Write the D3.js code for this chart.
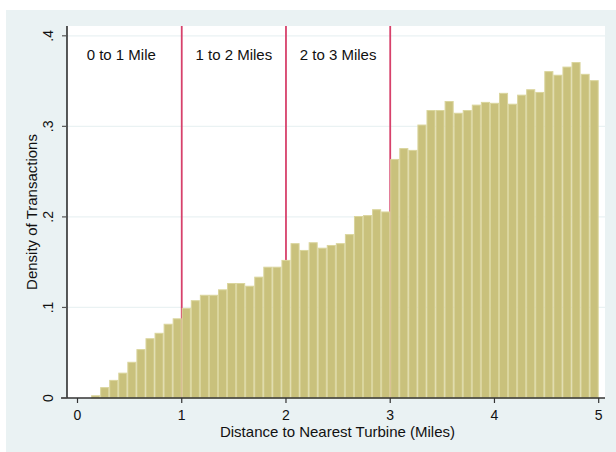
<!DOCTYPE html>
<html lang="en">
<head>
<meta charset="UTF-8">
<title>Density of Transactions by Distance to Nearest Turbine</title>
<script src="https://d3js.org/d3.v7.min.js"></script>
<style>
  body { margin: 0; background: #fff; }
  svg text { font-family: "Liberation Sans", Arial, sans-serif; fill: #111; }
</style>
</head>
<body>
<div id="chart"></div>
<script>
// histogram bins: 56 bins of width 2/23 mile, first edge at 0.1304
var binStart = 1 - 10 * 2 / 23;
var binWidth = 2 / 23;
var density = [
  0.003, 0.012, 0.020, 0.028, 0.040, 0.054, 0.066, 0.072, 0.082, 0.088,
  0.0995, 0.108, 0.114, 0.114, 0.120, 0.127, 0.127, 0.124, 0.134, 0.145,
  0.145, 0.1525, 0.171, 0.1635, 0.172, 0.166, 0.169, 0.171, 0.181, 0.201,
  0.202, 0.2085, 0.206, 0.264, 0.276, 0.274, 0.302, 0.318, 0.318, 0.328,
  0.315, 0.318, 0.324, 0.327, 0.326, 0.337, 0.325, 0.335, 0.341, 0.338,
  0.361, 0.357, 0.366, 0.371, 0.358, 0.351
];
var xTicks = [0, 1, 2, 3, 4, 5];
var yTicks = [0, 0.1, 0.2, 0.3, 0.4];
var yTickLabels = ["0", ".1", ".2", ".3", ".4"];
var cutoffs = [1, 2, 3];
var bandLabels = ["0 to 1 Mile", "1 to 2 Miles", "2 to 3 Miles"];
var bandLabelX = [0.42, 1.5, 2.5];

var W = 616, H = 452;
var plot = {left: 67, right: 605, top: 26, bottom: 398};

var x = d3.scaleLinear().domain([0, 5]).range([77.5, 598.7]);
var y = d3.scaleLinear().domain([0, 0.4]).range([398, 35.8]);

var svg = d3.select("#chart").append("svg")
    .attr("width", W)
    .attr("height", H);

// outer graph region
svg.append("rect")
    .attr("x", 6).attr("y", 10)
    .attr("width", W - 6).attr("height", H - 10)
    .attr("fill", "#eaf2f3");

// plot region
svg.append("rect")
    .attr("x", plot.left).attr("y", plot.top)
    .attr("width", plot.right - plot.left).attr("height", plot.bottom - plot.top)
    .attr("fill", "#fff");

// gridlines
svg.append("g").selectAll("line")
    .data(yTicks.slice(1))
    .enter().append("line")
    .attr("x1", plot.left).attr("x2", plot.right)
    .attr("y1", function(d){ return y(d); })
    .attr("y2", function(d){ return y(d); })
    .attr("stroke", "#eaf2f3")
    .attr("stroke-width", 1.2);

// cutoff lines
svg.append("g").selectAll("line")
    .data(cutoffs)
    .enter().append("line")
    .attr("x1", function(d){ return x(d); })
    .attr("x2", function(d){ return x(d); })
    .attr("y1", plot.top).attr("y2", plot.bottom)
    .attr("stroke", "#d7416b")
    .attr("stroke-width", 1.8);

// bars
svg.append("g").selectAll("rect")
    .data(density)
    .enter().append("rect")
    .attr("x", function(d, i){ return x(binStart + i * binWidth) + 0.5; })
    .attr("width", function(d, i){ return x(binStart + (i + 1) * binWidth) - x(binStart + i * binWidth) - 1; })
    .attr("y", function(d){ return y(d) + 0.5; })
    .attr("height", function(d){ return Math.max(0, y(0) - y(d) - 0.5); })
    .attr("fill", "#c9c17c")
    .attr("stroke", "#dad59d")
    .attr("stroke-width", 1);

// band labels
svg.append("g").selectAll("text")
    .data(bandLabels)
    .enter().append("text")
    .attr("x", function(d, i){ return x(bandLabelX[i]); })
    .attr("y", 60)
    .attr("text-anchor", "middle")
    .style("font-size", "15px")
    .text(function(d){ return d; });

// axes lines
svg.append("line")
    .attr("x1", plot.left).attr("x2", plot.left)
    .attr("y1", plot.top).attr("y2", plot.bottom)
    .attr("stroke", "#000").attr("stroke-width", 1.3);
svg.append("line")
    .attr("x1", 61).attr("x2", plot.right)
    .attr("y1", plot.bottom).attr("y2", plot.bottom)
    .attr("stroke", "#333").attr("stroke-width", 1.3);

// x ticks
var xt = svg.append("g").selectAll("g")
    .data(xTicks)
    .enter().append("g")
    .attr("transform", function(d){ return "translate(" + x(d) + ",0)"; });
xt.append("line")
    .attr("y1", plot.bottom).attr("y2", plot.bottom + 5)
    .attr("stroke", "#333").attr("stroke-width", 1.2);
xt.append("text")
    .attr("y", 420)
    .attr("text-anchor", "middle")
    .style("font-size", "14px")
    .text(function(d){ return d; });

// y ticks
var yt = svg.append("g").selectAll("g")
    .data(yTicks)
    .enter().append("g")
    .attr("transform", function(d){ return "translate(0," + y(d) + ")"; });
yt.append("line")
    .attr("x1", plot.left - 5).attr("x2", plot.left)
    .attr("stroke", "#555").attr("stroke-width", 1.2);
yt.append("text")
    .attr("transform", "translate(53,0) rotate(-90)")
    .attr("text-anchor", "middle")
    .style("font-size", "14px")
    .text(function(d, i){ return yTickLabels[i]; });

// axis titles
svg.append("text")
    .attr("x", (216.7 + 458.3) / 2)
    .attr("y", 437)
    .attr("text-anchor", "middle")
    .style("font-size", "15px")
    .text("Distance to Nearest Turbine (Miles)");

svg.append("text")
    .attr("transform", "translate(37," + ((plot.top + plot.bottom) / 2) + ") rotate(-90)")
    .attr("text-anchor", "middle")
    .style("font-size", "15px")
    .text("Density of Transactions");
</script>
</body>
</html>
